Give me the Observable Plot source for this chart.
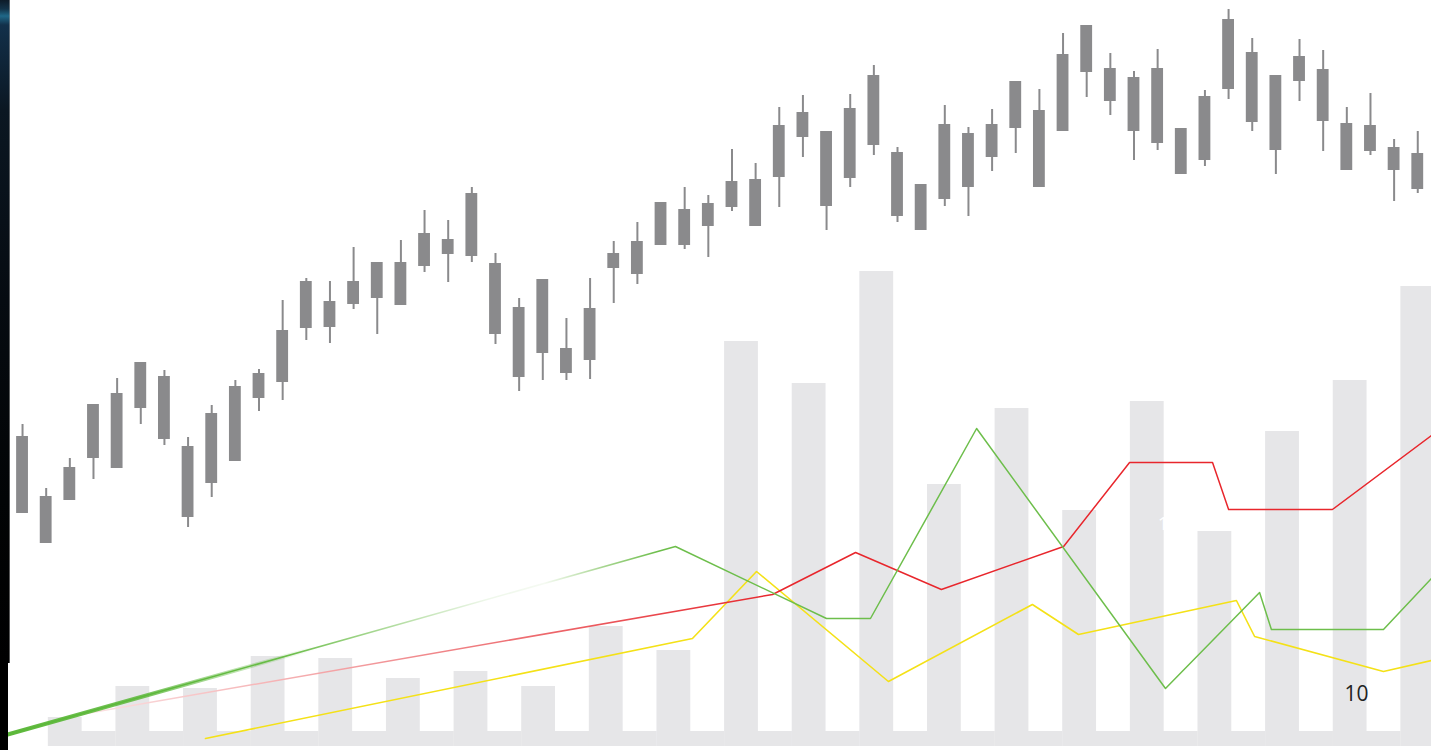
<!DOCTYPE html>
<html>
<head>
<meta charset="utf-8">
<script src="https://cdn.jsdelivr.net/npm/d3@7"></script>
<script src="https://cdn.jsdelivr.net/npm/@observablehq/plot@0.6"></script>
<style>
html, body { margin: 0; padding: 0; background: #fff; }
#chart { position: relative; width: 1431px; height: 750px; overflow: hidden; background: #fff; }
#chart .layer { position: absolute; left: 0; top: 0; }
#chart svg { max-width: none !important; background: transparent !important; display: block; }
#stripTop { position: absolute; left: 0; top: 0; width: 9px; height: 663px; z-index: 10;
  border-right: 1px solid rgba(160,160,160,0.55);
  background: linear-gradient(to bottom, #0d1b29 0px, #133349 9px, #1f6888 16px, #12304a 25px, #0b1722 110px, #060b11 300px, #020405 500px, #000 663px); }
#stripBottom { position: absolute; left: 0; top: 663px; width: 8px; height: 87px; z-index: 10; background: #000; }
</style>
</head>
<body>
<div id="chart"><div id="stripTop"></div><div id="stripBottom"></div></div>
<script>
// ---------- data ----------
const days = d3.range(60);
const open  = [28.7,30.4,30.0,34.2,33.2,39.2,42.4,35.4,31.7,33.9,40.2,41.8,47.2,49.9,49.6,50.2,53.8,53.4,54.6,54.4,53.7,49.3,44.7,45.2,44.0,53.2,52.6,55.5,59.1,57.4,59.3,62.1,62.3,66.3,66.9,62.2,65.5,64.8,61.6,60.1,61.3,64.3,67.2,69.0,66.9,72.8,73.2,72.3,73.2,67.2,64.0,71.1,74.8,72.5,71.9,73.1,67.7,64.9,65.3,64.7];
const high  = [37.6,31.2,34.2,39.6,42.2,43.8,43.0,36.3,39.5,42.0,43.1,50.0,52.2,51.9,55.3,53.8,56.0,59.0,58.0,61.3,54.7,50.2,52.1,48.2,52.2,55.9,57.8,59.8,61.3,60.5,65.1,63.7,69.3,70.5,66.9,70.6,73.5,65.3,61.6,69.5,67.3,69.1,71.9,71.1,76.7,77.5,74.7,72.9,75.1,67.2,71.0,79.1,76.2,72.5,76.1,75.0,69.3,70.7,66.1,66.9];
const low   = [28.7,25.7,30.0,32.1,33.2,37.6,35.5,27.3,30.3,33.9,38.9,40.0,46.0,45.7,49.1,46.6,49.5,52.8,51.8,53.8,45.6,40.9,42.0,42.0,42.1,49.7,51.6,55.5,55.1,54.3,58.9,57.4,59.3,64.3,57.0,61.3,64.5,57.8,57.0,59.4,58.4,62.9,64.7,61.3,66.9,70.3,68.5,64.0,65.0,62.6,63.4,70.1,66.9,62.6,69.9,64.9,63.0,64.5,59.9,60.7];
const close = [36.4,25.7,33.3,39.6,40.7,43.8,36.1,28.3,38.7,41.4,42.7,47.0,51.9,47.3,51.9,53.8,49.5,56.7,56.1,60.7,46.6,42.3,52.1,42.7,49.2,54.7,55.9,59.8,55.5,59.7,61.9,57.4,67.5,68.8,59.4,69.2,72.5,58.4,57.0,67.6,66.7,67.6,71.9,61.3,74.6,77.5,69.9,66.9,65.7,62.6,70.4,78.1,67.8,65.0,74.4,67.9,63.0,67.5,63.0,61.1];

const volWeeks = d3.range(21);
const volume = [140,450,430,750,730,530,600,450,1050,810,3900,3480,4600,2470,3230,2210,3300,2000,3000,3510,4450];
const volBase = 150;

const greenX  = [-0.93,27.62,34.01,35.87,40.36,48.35,52.33,52.83,57.57,59.60];
const greenY  = [2.8,40.8,26.4,26.4,64.4,12.4,31.6,24.2,24.2,34.4];
const redX    = [2.45,31.73,35.24,38.87,44.04,46.83,50.34,51.02,55.41,59.60];
const redY    = [7.2,31.2,39.6,32.2,40.8,57.6,57.6,48.2,48.2,63.0];
const yellowX = [7.74,28.34,31.05,36.63,42.72,44.67,51.35,52.12,57.57,59.60];
const yellowY = [2.4,22.4,35.8,13.8,29.2,23.2,30.0,22.8,15.8,18.0];

const labelText = ["10", "10"];
const labelX = [56.43, 48.48];
const labelY = [11.2, 45.3];

// ---------- build ----------
const W = 1431, H = 750;
const chart = document.getElementById("chart");
const stripTop = document.getElementById("stripTop");
function addLayer(svg) {
  const d = document.createElement("div");
  d.className = "layer";
  d.appendChild(svg);
  chart.insertBefore(d, stripTop);
}
const GRAY = "#8a8a8c", LIGHT = "#e6e6e8";

// volume layer
const volData = volWeeks.map((w, i) => ({w, v: volume[i]}));
const volPlot = Plot.plot({
  width: 1468, height: H, marginLeft: 14, marginRight: 0, marginTop: 0, marginBottom: 0,
  x: {type: "band", domain: volWeeks, padding: 0.5, round: false, axis: null},
  y: {domain: [-190, 7310], axis: null},
  style: {background: "transparent", maxWidth: "none"},
  marks: [
    Plot.barY(volData, {x: "w", y1: -volBase, y2: 0, fill: LIGHT, insetRight: -34}),
    Plot.barY(volData, {x: "w", y: "v", fill: LIGHT})
  ]
});
addLayer(volPlot);

// candle layer
const candles = days.map((d, i) => ({d, o: open[i], h: high[i], l: low[i], c: close[i]}));
const candlePlot = Plot.plot({
  width: 1435, height: H, marginLeft: 4.3, marginRight: 0, marginTop: 0, marginBottom: 0,
  x: {type: "band", domain: days, padding: 0.5, round: false, axis: null},
  y: {domain: [5, 80], axis: null},
  style: {background: "transparent", maxWidth: "none"},
  marks: [
    Plot.ruleX(candles, {x: "d", y1: "l", y2: "h", stroke: GRAY, strokeWidth: 2}),
    Plot.barY(candles, {x: "d", y1: "o", y2: "c", fill: GRAY})
  ]
});
addLayer(candlePlot);

// indicator lines layer
const pts = (xs, ys) => xs.map((x, i) => ({x, y: ys[i]}));
const green = pts(greenX, greenY), red = pts(redX, redY), yellow = pts(yellowX, yellowY);
const labels = labelText.map((t, i) => ({t, x: labelX[i], y: labelY[i]}));
const linePlot = Plot.plot({
  width: W, height: H, marginLeft: 0, marginRight: 0, marginTop: 0, marginBottom: 0,
  x: {domain: [-0.9306, 59.6024], axis: null},
  y: {domain: [0, 150], axis: null},
  style: {background: "transparent", maxWidth: "none"},
  marks: [
    Plot.line(yellow, {x: "x", y: "y", stroke: "#f4e117", strokeWidth: 1.6}),
    Plot.line(red, {x: "x", y: "y", stroke: "#e8262c", strokeWidth: 1.5}),
    Plot.line(green, {x: "x", y: "y", stroke: "#6dbe4b", strokeWidth: 1.5}),
    Plot.line(green, {x: "x", y: "y", stroke: "#5cb83a", strokeWidth: 4.2}),
    Plot.text(labels.slice(0, 1), {x: "x", y: "y", text: "t", fill: "#222", fontSize: 21, fontFamily: "Open Sans"}),
    Plot.text(labels.slice(1), {x: "x", y: "y", text: "t", fill: "#fff", fontSize: 19, fontFamily: "Open Sans"})
  ]
});
addLayer(linePlot);

// gradient styling of the lines
const ns = "http://www.w3.org/2000/svg";
function grad(id, stops) {
  const g = document.createElementNS(ns, "linearGradient");
  g.setAttribute("id", id);
  g.setAttribute("gradientUnits", "userSpaceOnUse");
  g.setAttribute("x1", 0); g.setAttribute("x2", W);
  g.setAttribute("y1", 0); g.setAttribute("y2", 0);
  for (const [o, c, op] of stops) {
    const s = document.createElementNS(ns, "stop");
    s.setAttribute("offset", o);
    s.setAttribute("stop-color", c);
    s.setAttribute("stop-opacity", op == null ? 1 : op);
    g.appendChild(s);
  }
  return g;
}
const defs = document.createElementNS(ns, "defs");
defs.appendChild(grad("gGreen", [[0, "#5cb83a"], [0.2, "#6dbe4b"], [0.34, "#eef7ea"], [0.38, "#f5faf2"], [0.42, "#a9d693"], [0.46, "#6dbe4b"], [1, "#6dbe4b"]]));
defs.appendChild(grad("gGreenThick", [[0, "#5cb83a", 1], [0.1, "#5cb83a", 0.85], [0.18, "#5cb83a", 0.3], [0.22, "#5cb83a", 0], [1, "#5cb83a", 0]]));
defs.appendChild(grad("gRed", [[0, "#fbe3e4"], [0.056, "#fbe3e4"], [0.2, "#f5b0b2"], [0.35, "#ee7478"], [0.5, "#e8353b"], [0.55, "#e8262c"], [1, "#e8262c"]]));
linePlot.insertBefore(defs, linePlot.firstChild);
const lineGroups = linePlot.querySelectorAll('g[aria-label="line"]');
const gradIds = [null, "gRed", "gGreen", "gGreenThick"];
lineGroups.forEach((g, i) => {
  if (!gradIds[i]) return;
  g.setAttribute("stroke", `url(#${gradIds[i]})`);
  g.querySelectorAll("path").forEach(p => p.setAttribute("stroke", `url(#${gradIds[i]})`));
});
</script>
</body>
</html>
